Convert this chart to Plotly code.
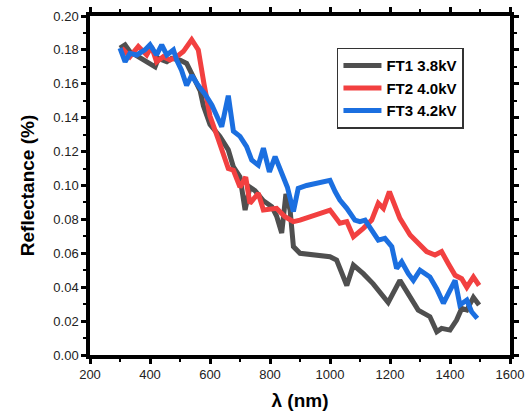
import plotly.graph_objects as go

ft1_x = [300, 317, 333, 378, 417, 428, 456, 472, 500, 522, 544, 567, 578, 600, 633, 661, 678, 700, 717, 733,
         750, 778, 806, 822, 839, 853, 867, 878, 900, 1000, 1022, 1039, 1056, 1078, 1111, 1144, 1172, 1194, 1233,
         1267, 1294, 1333, 1356, 1372, 1400, 1422, 1439, 1456, 1478, 1497]
ft1_y = [0.181, 0.183, 0.179, 0.174, 0.170, 0.175, 0.173, 0.175, 0.174, 0.172, 0.164, 0.156, 0.147, 0.136, 0.129,
         0.121, 0.111, 0.105, 0.0855, 0.099, 0.097, 0.091, 0.0875, 0.082, 0.072, 0.095, 0.0855, 0.064, 0.060, 0.058,
         0.056, 0.048, 0.041, 0.053, 0.048, 0.042, 0.036, 0.031, 0.044, 0.034, 0.0265, 0.0226, 0.0137, 0.0157,
         0.0147, 0.0206, 0.0275, 0.0265, 0.034, 0.0295]

ft2_x = [306, 333, 361, 389, 405, 422, 444, 467, 489, 511, 539, 561, 580, 600, 628, 644, 661, 678, 700, 719, 733,
         761, 778, 822, 850, 878, 900, 1000, 1033, 1056, 1078, 1111, 1139, 1161, 1178, 1198, 1233, 1267, 1294, 1322,
         1350, 1372, 1394, 1417, 1439, 1456, 1478, 1497]
ft2_y = [0.181, 0.176, 0.182, 0.177, 0.182, 0.173, 0.176, 0.174, 0.176, 0.179, 0.186, 0.180, 0.160, 0.141, 0.127,
         0.119, 0.110, 0.109, 0.099, 0.105, 0.0895, 0.0954, 0.0855, 0.0865, 0.0816, 0.0787, 0.0796, 0.0855, 0.0777,
         0.0787, 0.0698, 0.0747, 0.0796, 0.0895, 0.0865, 0.0964, 0.0806, 0.0708, 0.0659, 0.061, 0.059, 0.061, 0.054,
         0.047, 0.045, 0.040, 0.046, 0.041]

ft3_x = [300, 317, 333, 356, 383, 400, 422, 439, 456, 478, 489, 505, 522, 539, 561, 583, 606, 622, 639, 661, 678,
         700, 722, 739, 761, 778, 798, 817, 839, 858, 878, 894, 922, 1000, 1017, 1033, 1056, 1067, 1083, 1100, 1117,
         1139, 1161, 1183, 1206, 1222, 1239, 1261, 1278, 1300, 1333, 1356, 1378, 1394, 1417, 1433, 1456, 1472, 1491]
ft3_y = [0.181, 0.173, 0.178, 0.177, 0.180, 0.183, 0.177, 0.183, 0.177, 0.180, 0.174, 0.168, 0.159, 0.165, 0.159,
         0.154, 0.1475, 0.1416, 0.1347, 0.153, 0.132, 0.129, 0.123, 0.115, 0.112, 0.122, 0.108, 0.117, 0.107, 0.099,
         0.0846, 0.0983, 0.100, 0.103, 0.0964, 0.0914, 0.0865, 0.0836, 0.0796, 0.0787, 0.0796, 0.0737, 0.0678, 0.0688,
         0.0639, 0.051, 0.055, 0.048, 0.044, 0.050, 0.046, 0.039, 0.0305, 0.036, 0.044, 0.0295, 0.0324, 0.0255, 0.0216]

names = ["FT1 3.8kV", "FT2 4.0kV", "FT3 4.2kV"]
colors = ["#4f4f4f", "#f24040", "#1b6fe0"]

fig = go.Figure()
for xs, ys, n, c in zip([ft1_x, ft2_x, ft3_x], [ft1_y, ft2_y, ft3_y], names, colors):
    fig.add_trace(go.Scatter(x=xs, y=ys, mode="lines", name=n,
                             line=dict(color=c, width=5)))

tickfont = dict(family="Liberation Sans, Arial", size=13, color="#222")
titlefont = dict(family="Liberation Sans, Arial", size=19, color="black", weight="bold")

fig.update_layout(
    width=527, height=415,
    margin=dict(l=90, r=17, t=16, b=60, autoexpand=False),
    plot_bgcolor="white", paper_bgcolor="white",
    xaxis=dict(range=[200, 1600], dtick=200, tick0=200, ticks="outside", ticklen=5, tickwidth=3,
               tickcolor="#000000", showline=True, linewidth=3.5, linecolor="#000000", mirror="ticks",
               showgrid=False, zeroline=False, tickfont=tickfont,
               minor=dict(dtick=100, ticks="outside", ticklen=3, tickwidth=2, tickcolor="#000000"),
               title=dict(text="λ (nm)", font=titlefont, standoff=13)),
    yaxis=dict(range=[0, 0.2], dtick=0.02, tick0=0, tickformat=".2f", ticks="outside", ticklen=5,
               tickwidth=3, tickcolor="#000000", showline=True, linewidth=3.5, linecolor="#000000", mirror="ticks",
               showgrid=False, zeroline=False, tickfont=tickfont,
               minor=dict(dtick=0.01, ticks="outside", ticklen=3, tickwidth=2, tickcolor="#000000"),
               title=dict(text="Reflectance (%)", font=titlefont, standoff=15)),
    legend=dict(x=0.588, y=0.906, xanchor="left", yanchor="top",
                font=dict(family="Liberation Sans, Arial", size=15, color="black", weight="bold"),
                bordercolor="#333", borderwidth=1.5, bgcolor="white",
                tracegroupgap=0, itemwidth=38),
    showlegend=True,
)

fig.write_html("out.html", config={"displayModeBar": False},
               post_script="document.body.style.margin='0';document.body.style.overflow='hidden';")
